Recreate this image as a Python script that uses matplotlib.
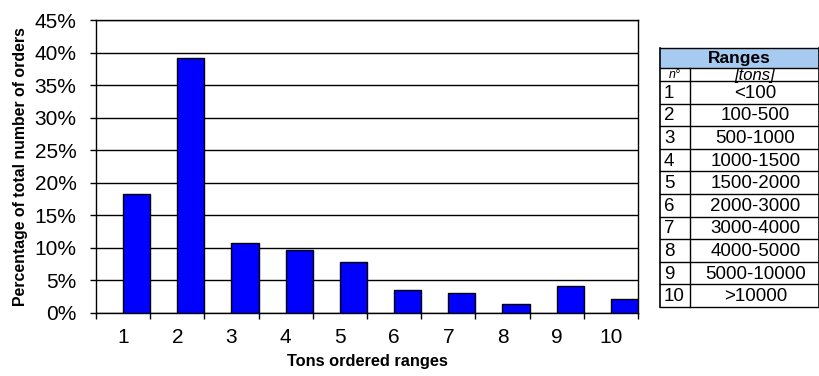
import numpy as np
import matplotlib.pyplot as plt
from matplotlib.patches import Rectangle

plt.rcParams['font.family'] = ['Liberation Sans', 'DejaVu Sans']

# Share of orders per tonnage class
classes = [1, 2, 3, 4, 5, 6, 7, 8, 9, 10]
share = [18.3, 39.2, 10.7, 9.7, 7.8, 3.5, 3.0, 1.4, 4.2, 2.2]
ranges = ['<100', '100-500', '500-1000', '1000-1500', '1500-2000',
          '2000-3000', '3000-4000', '4000-5000', '5000-10000', '>10000']
yticks = [0, 5, 10, 15, 20, 25, 30, 35, 40, 45]

W, H = 820, 376
fig = plt.figure(figsize=(W / 100, H / 100), dpi=100)

# main chart
ax = fig.add_axes([96 / W, 1 - 313 / H, (638 - 96) / W, (313 - 20) / H])
ax.bar(classes, share, width=0.5, align='edge', color='#0000FF',
       edgecolor='black', linewidth=1, zorder=3)
ax.set_xlim(0.5, 10.5)
ax.set_ylim(0, 45)
ax.set_yticks(yticks)
ax.set_yticklabels([f'{v}%' for v in yticks], fontsize=15)
ax.set_xticks(classes)
ax.set_xticklabels([str(c) for c in classes], fontsize=15)
ax.set_xticks(np.arange(0.5, 11, 1), minor=True)
ax.tick_params(axis='x', which='major', length=0, pad=11)
ax.tick_params(axis='x', which='minor', length=4, width=1, direction='out')
ax.tick_params(axis='y', length=4, width=1, direction='out', pad=10)
ax.grid(axis='y', color='black', linewidth=1, zorder=0)
ax.set_axisbelow(True)
for s in ax.spines.values():
    s.set_color('black')
    s.set_linewidth(1)
ax.set_xlabel('Tons ordered ranges', fontsize=11.8, fontweight='bold', labelpad=5)
ax.set_ylabel('Percentage of total number of orders', fontsize=11.4,
              fontweight='bold', labelpad=5)

# legend table of the tonnage ranges, drawn in pixel units
tx = fig.add_axes([0, 0, 1, 1])
tx.set_xlim(0, W)
tx.set_ylim(H, 0)
tx.axis('off')

x0, x1, x2 = 660, 690, 819
head_top, head_bot, sub_bot, tab_bot = 48, 68, 81, 307
row_h = (tab_bot - sub_bot) / len(ranges)

tx.add_patch(Rectangle((x0, head_top), x2 - x0, head_bot - head_top,
                       facecolor='#A6CAF0', edgecolor='none'))
tx.text((x0 + x2) / 2, (head_top + head_bot) / 2 + 1, 'Ranges',
        ha='center', va='center', fontsize=12.5, fontweight='bold')
tx.text((x0 + x1) / 2, (head_bot + sub_bot) / 2 + 1, 'n°',
        ha='center', va='center', fontsize=9, style='italic')
tx.text((x1 + x2) / 2, (head_bot + sub_bot) / 2 + 1, '[tons]',
        ha='center', va='center', fontsize=12, style='italic')

for i, (c, r) in enumerate(zip(classes, ranges)):
    yc = sub_bot + (i + 0.5) * row_h + 1
    tx.text(x0 + 4, yc, str(c), ha='left', va='center', fontsize=13.5)
    tx.text((x1 + x2) / 2 + 1, yc, r, ha='center', va='center', fontsize=13.5)

# grid lines of the table
hl = [head_top, head_bot, sub_bot] + [sub_bot + k * row_h for k in range(1, len(ranges) + 1)]
for y in hl:
    tx.plot([x0, x2], [y, y], color='black', linewidth=1)
tx.plot([x0, x0], [head_top, tab_bot], color='black', linewidth=1.2)
tx.plot([x2, x2], [head_top, tab_bot], color='black', linewidth=1.2)
tx.plot([x1, x1], [head_bot, tab_bot], color='black', linewidth=1)

fig.savefig('out.png', dpi=100)
